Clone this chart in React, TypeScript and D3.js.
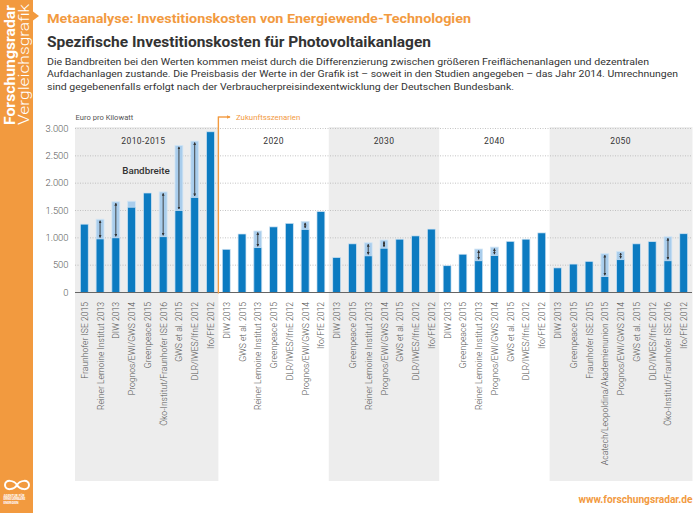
// Externals
import * as d3 from 'd3'
import React from 'react'

// Data (Euro pro Kilowatt)
const groupNames = ['2010-2015', '2020', '2030', '2040', '2050']

const labels2015 = ['Fraunhofer ISE 2015', 'Reiner Lemoine Institut 2013', 'DIW 2013', 'Prognos/EWI/GWS 2014', 'Greenpeace 2015', 'Öko-Institut/Fraunhofer ISE 2016', 'GWS et al. 2015', 'DLR/IWES/IfnE 2012', 'Ifo/FfE 2012']
const values2015 = [1250, 980, 1000, 1560, 1820, 1020, 1500, 1740, 2940]
const highs2015 = [null, 1340, 1660, 1670, null, 1840, 2690, 2770, null]
const arrows2015 = [false, true, true, false, false, true, true, true, false]

const labels2020 = ['DIW 2013', 'GWS et al. 2015', 'Reiner Lemoine Institut 2013', 'Greenpeace 2015', 'DLR/IWES/IfnE 2012', 'Prognos/EWI/GWS 2014', 'Ifo/FfE 2012']
const values2020 = [790, 1070, 820, 1200, 1265, 1155, 1480]
const highs2020 = [null, null, 1125, null, null, 1300, null]

const labels2030 = ['DIW 2013', 'Greenpeace 2015', 'Reiner Lemoine Institut 2013', 'Prognos/EWI/GWS 2014', 'GWS et al. 2015', 'DLR/IWES/IfnE 2012', 'Ifo/FfE 2012']
const values2030 = [640, 890, 670, 810, 975, 1035, 1160]
const highs2030 = [null, null, 910, 960, null, null, null]

const labels2040 = ['DIW 2013', 'Greenpeace 2015', 'Reiner Lemoine Institut 2013', 'Prognos/EWI/GWS 2014', 'GWS et al. 2015', 'DLR/IWES/IfnE 2012', 'Ifo/FfE 2012']
const values2040 = [490, 700, 580, 675, 935, 975, 1090]
const highs2040 = [null, null, 795, 830, null, null, null]

const labels2050 = ['DIW 2013', 'Greenpeace 2015', 'Fraunhofer ISE 2015', 'Acatech/Leopoldina/Akademienunion 2015', 'Prognos/EWI/GWS 2014', 'GWS et al. 2015', 'DLR/IWES/IfnE 2012', 'Öko-Institut/Fraunhofer ISE 2016', 'Ifo/FfE 2012']
const values2050 = [450, 520, 570, 290, 600, 890, 930, 580, 1075]
const highs2050 = [null, null, null, 710, 750, null, null, 1020, null]

const yTicks = [0, 500, 1000, 1500, 2000, 2500, 3000]

const introLines = [
  'Die Bandbreiten bei den Werten kommen meist durch die Differenzierung zwischen größeren Freiflächenanlagen und dezentralen',
  'Aufdachanlagen zustande. Die Preisbasis der Werte in der Grafik ist – soweit in den Studien angegeben – das Jahr 2014. Umrechnungen',
  'sind gegebenenfalls erfolgt nach der Verbraucherpreisindexentwicklung der Deutschen Bundesbank.',
]
const introWidths = [602, 631, 467]

const ORANGE = '#F29A3F'
const BLUE = '#0C7BC1'
const LIGHT = '#A9CDEC'
const FONT = 'Roboto, "DejaVu Sans", sans-serif'

const groupData = [
  { labels: labels2015, values: values2015, highs: highs2015, arrows: arrows2015 },
  { labels: labels2020, values: values2020, highs: highs2020 },
  { labels: labels2030, values: values2030, highs: highs2030 },
  { labels: labels2040, values: values2040, highs: highs2040 },
  { labels: labels2050, values: values2050, highs: highs2050 },
]

// flatten into one row per bar
const rows: any[] = []
groupData.forEach((g, gi) => {
  g.labels.forEach((label, i) => {
    const high = g.highs[i]
    rows.push({
      key: `${gi}-${i}`,
      group: gi,
      label,
      value: g.values[i],
      high,
      arrow: high != null && (g.arrows ? g.arrows[i] : true),
    })
  })
})

const de = d3.formatLocale({ decimal: ',', thousands: '.', grouping: [3], currency: ['', ' €'] })
const fmt = de.format(',')

const App = () => {
  const width = 700
  const height = 513
  const baseY = 292.5

  const x = d3.scaleBand<number>()
    .domain(rows.map((d, i) => i))
    .range([76.4, 691.6])
    .paddingInner(0.5)
    .paddingOuter(0.25)

  const y = d3.scaleLinear().domain([0, 3000]).range([baseY, 128.5])

  const step = x.step()
  const bw = x.bandwidth()
  const gap = (step - bw) / 2

  // group extents in pixels
  const groupExtents = groupNames.map((name, gi) => {
    const idx = rows.map((r, i) => (r.group === gi ? i : -1)).filter((i) => i >= 0)
    const x0 = (x(idx[0]) as number) - gap
    const x1 = (x(idx[idx.length - 1]) as number) + bw + gap
    return { name, x0, x1, gi }
  })

  const futureX = groupExtents[1].x0

  return (
    <svg width={width} height={height} style={{ position: 'absolute', left: 0, top: 0, display: 'block', background: '#fff' }} fontFamily={FONT}>
      <defs>
        <marker id='ah' viewBox='0 0 6 6' refX='5' refY='3' markerWidth='3.2' markerHeight='3.2' orient='auto-start-reverse'>
          <path d='M0,0 L6,3 L0,6 Z' fill='#333' />
        </marker>
        <marker id='oh' viewBox='0 0 6 6' refX='5' refY='3' markerWidth='3' markerHeight='3' orient='auto'>
          <path d='M0,0 L6,3 L0,6 Z' fill={ORANGE} />
        </marker>
      </defs>

      {/* Sidebar */}
      <rect x={0} y={0} width={33} height={height} fill={ORANGE} />
      <path d='M33,11.5 L39,16 L33,20.5 Z' fill={ORANGE} />
      <text transform='translate(14.5,125) rotate(-90)' fill='#fff' fontSize={14.5} fontWeight={700} textLength={120} lengthAdjust='spacingAndGlyphs'>Forschungsradar</text>
      <text transform='translate(28.5,125) rotate(-90)' fill='#fff' fontSize={14.5} fontWeight={300} textLength={121} lengthAdjust='spacingAndGlyphs'>Vergleichsgrafik</text>
      <path d='M17,485 C20,480 29,479 29,485 C29,491 20,490 17,485 C14,480 5,479 5,485 C5,491 14,490 17,485 Z' fill='none' stroke='#fff' strokeWidth={2} />
      {['AGENTUR FÜR', 'ERNEUERBARE', 'ENERGIEN'].map((t, i) => (
        <text key={t} x={3.5} y={497 + i * 3.4} fill='#fff' fontSize={3.2} fontWeight={700}>{t}</text>
      ))}

      {/* Header */}
      <text x={47} y={22.7} fill={ORANGE} fontSize={12.5} fontWeight={700} textLength={424} lengthAdjust='spacingAndGlyphs'>Metaanalyse: Investitionskosten von Energiewende-Technologien</text>
      <text x={47} y={46.7} fill='#333' fontSize={14.5} fontWeight={700} textLength={384} lengthAdjust='spacingAndGlyphs'>Spezifische Investitionskosten für Photovoltaikanlagen</text>
      {introLines.map((t, i) => (
        <text key={i} x={47} y={65 + i * 12.4} fill='#333' fontSize={9.6} textLength={introWidths[i]} lengthAdjust='spacingAndGlyphs'>{t}</text>
      ))}

      {/* Gray group backgrounds */}
      {groupExtents.filter((g) => g.gi % 2 === 0).map((g) => (
        <rect key={g.name} x={g.gi === 0 ? 75 : g.x0} y={127} width={(g.gi === 4 ? 692.5 : g.x1) - (g.gi === 0 ? 75 : g.x0)} height={481 - 127} fill='#EDEDED' />
      ))}

      {/* Grid lines */}
      {yTicks.filter((t) => t > 0).map((t) => (
        <line key={t} x1={75} x2={692} y1={y(t)} y2={y(t)} stroke='#B5B5B5' strokeWidth={0.8} strokeDasharray='1,1.5' />
      ))}

      {/* Y axis labels */}
      {yTicks.map((t) => (
        <text key={t} x={68.5} y={y(t) + 3.3} textAnchor='end' fill='#555' fontSize={9.4} fontWeight={300}>{fmt(t)}</text>
      ))}
      <text x={75.5} y={120} fill='#555' fontSize={7.6}>Euro pro Kilowatt</text>

      {/* Group labels */}
      {groupExtents.map((g) => (
        <text key={g.name} x={(g.x0 + g.x1) / 2 - (g.gi === 0 ? 4 : 0)} y={144} textAnchor='middle' fill='#333' fontSize={8.5} fontWeight={400} letterSpacing={0.4}>{g.name}</text>
      ))}
      <text x={146} y={174} textAnchor='middle' fill='#333' fontSize={9.8} fontWeight={500}>Bandbreite</text>

      {/* Bandwidth backgrounds */}
      {rows.map((r, i) => r.high != null && (
        <rect key={`h${r.key}`} x={x(i)} y={y(r.high)} width={bw} height={baseY - y(r.high)} fill={LIGHT} stroke='#D3E6F5' strokeWidth={0.8} />
      ))}

      {/* Bars */}
      {rows.map((r, i) => (
        <rect key={`b${r.key}`} x={x(i)} y={y(r.value)} width={bw} height={baseY - y(r.value)} fill={BLUE} stroke='#CFE3F3' strokeWidth={0.7} />
      ))}

      {/* Range arrows */}
      {rows.map((r, i) => r.arrow && (
        <line key={`a${r.key}`} x1={(x(i) as number) + bw / 2} x2={(x(i) as number) + bw / 2}
          y1={y(r.high) + 1.5} y2={y(r.value) - 1.5}
          stroke='#333' strokeWidth={0.9} markerStart='url(#ah)' markerEnd='url(#ah)' />
      ))}

      {/* X axis */}
      <line x1={75} x2={692} y1={baseY} y2={baseY} stroke='#666' strokeWidth={1} />

      {/* Future scenarios marker */}
      <line x1={futureX} x2={futureX} y1={116.5} y2={baseY + 1} stroke={ORANGE} strokeWidth={1.4} />
      <line x1={futureX} x2={230} y1={117} y2={117} stroke={ORANGE} strokeWidth={1.4} markerEnd='url(#oh)' />
      <text x={236} y={119.8} fill={ORANGE} fontSize={7.8}>Zukunftsszenarien</text>

      {/* Category labels */}
      {rows.map((r, i) => (
        <text key={`l${r.key}`} transform={`translate(${(x(i) as number) + bw / 2 + 3.5},302) rotate(-90)`} textAnchor='end' fill='#555' fontSize={8.6} fontWeight={300}>{r.label}</text>
      ))}

      {/* Footer */}
      <text x={692.5} y={503} textAnchor='end' fill={ORANGE} fontSize={10.2} fontWeight={700}>www.forschungsradar.de</text>
    </svg>
  )
}

export default App
